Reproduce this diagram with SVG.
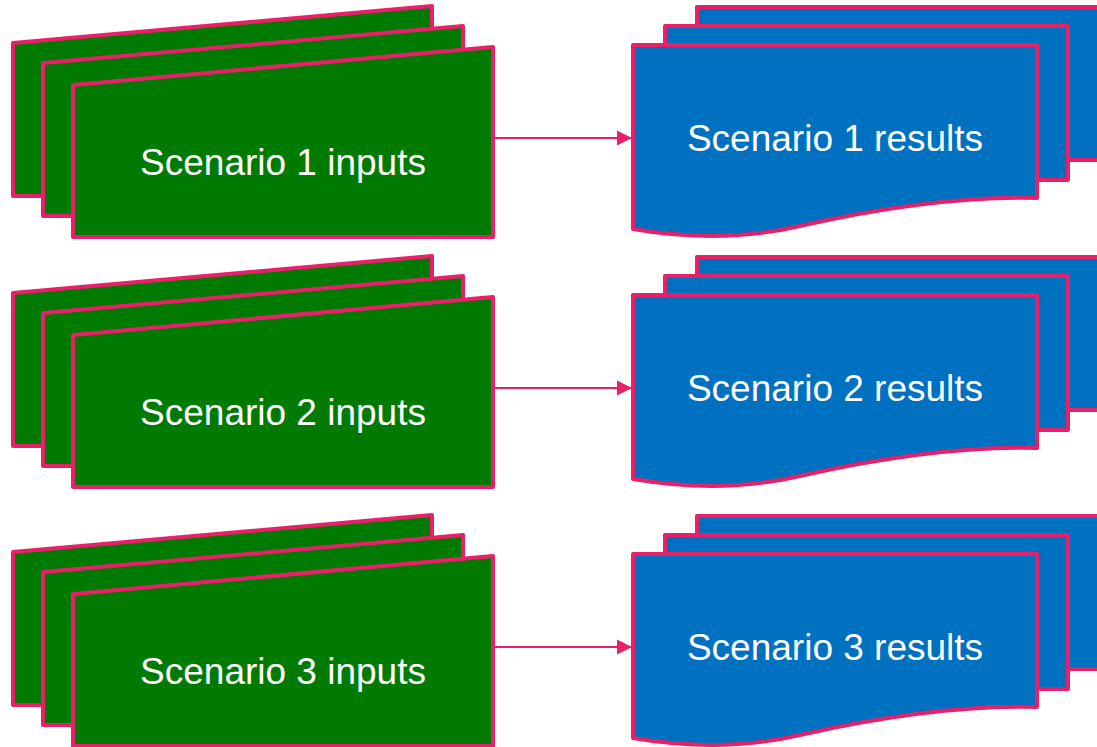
<svg xmlns="http://www.w3.org/2000/svg" width="1097" height="747" viewBox="0 0 1097 747">
<style>
.card{stroke:#E8206A;stroke-width:4;stroke-linejoin:round}
.in{fill:#007A00}
.out{fill:#0070C0}
.lbl{font-family:"Liberation Sans",Arial,sans-serif;font-size:37px;fill:#FFFFFF;text-anchor:middle}
.conn{stroke:#E8206A;stroke-width:2;fill:none}
</style>
<defs>
<marker id="arr" markerUnits="userSpaceOnUse" markerWidth="16" markerHeight="16" refX="15" refY="8" orient="auto">
<path d="M0,0.5 L15,8 L0,15.5 Z" fill="#E8206A"/>
</marker>
<g id="inStack">
<path class="card in" d="M13,43 L432,6 L432,196 L13,196 Z"/>
<path class="card in" d="M43,63 L463,26 L463,216 L43,216 Z"/>
<path class="card in" d="M73,85 L493,47 L493,237 L73,237 Z"/>
</g>
<g id="outStack">
<path class="card out" d="M697,7 H1101 V160 H697 Z"/>
<path class="card out" d="M665,26 H1068 V180 H665 Z"/>
<path class="card out" d="M633,45 H1037 V198 C960,196 880,208 800,226 C740,240 680,237 633,229 Z"/>
</g>
</defs>
<g id="inputs1"><use href="#inStack"/><text class="lbl" x="283" y="175">Scenario 1 inputs</text></g>
<g id="results1"><use href="#outStack"/><text class="lbl" x="835" y="151">Scenario 1 results</text></g>
<g id="inputs2" transform="translate(0,250)"><use href="#inStack"/><text class="lbl" x="283" y="175">Scenario 2 inputs</text></g>
<g id="results2" transform="translate(0,250)"><use href="#outStack"/><text class="lbl" x="835" y="151">Scenario 2 results</text></g>
<g id="inputs3" transform="translate(0,509)"><use href="#inStack"/><text class="lbl" x="283" y="175">Scenario 3 inputs</text></g>
<g id="results3" transform="translate(0,509)"><use href="#outStack"/><text class="lbl" x="835" y="151">Scenario 3 results</text></g>
<g id="connectors">
<line class="conn" x1="495" y1="138" x2="632" y2="138" marker-end="url(#arr)"/>
<line class="conn" x1="495" y1="388" x2="632" y2="388" marker-end="url(#arr)"/>
<line class="conn" x1="495" y1="647" x2="632" y2="647" marker-end="url(#arr)"/>
</g>
</svg>
